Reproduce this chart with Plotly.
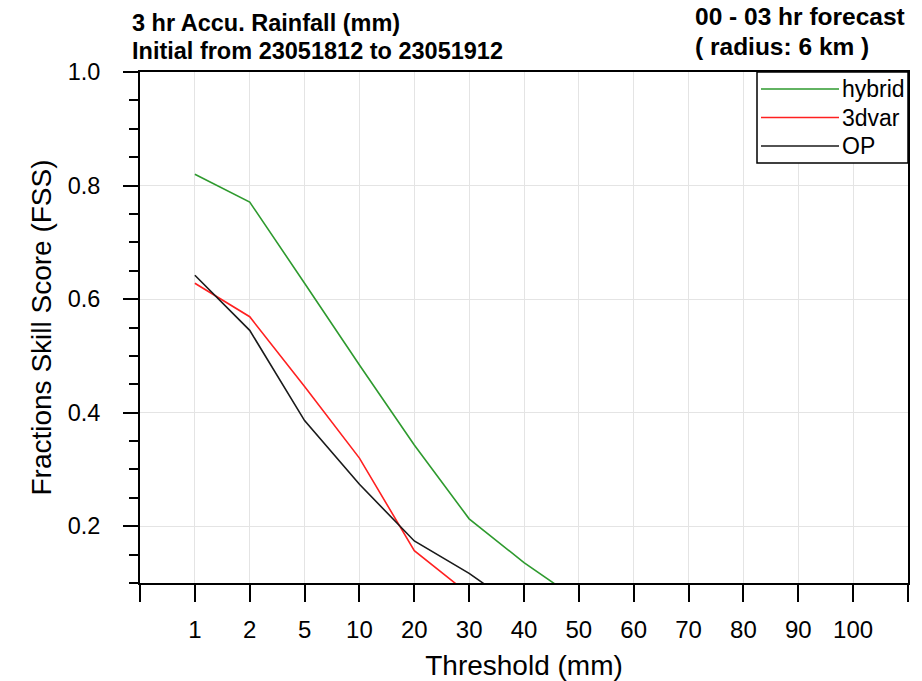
import plotly.graph_objects as go

# ---- data ----
thresholds = ["1", "2", "5", "10", "20", "30", "40", "50", "60", "70", "80", "90", "100"]
hybrid = [0.820, 0.771, 0.628, 0.484, 0.343, 0.213, 0.136, 0.069]
var3d = [0.628, 0.569, 0.446, 0.320, 0.157, 0.080]
op = [0.642, 0.545, 0.386, 0.274, 0.174, 0.117, 0.049]
series_names = ["hybrid", "3dvar", "OP"]
series_colors = ["#2e9a2e", "#ff2020", "#1a1a1a"]
series_values = [hybrid, var3d, op]

y_ticks = [0.2, 0.4, 0.6, 0.8, 1.0]
y_ticklabels = ["0.2", "0.4", "0.6", "0.8", "1.0"]

FONT = "Liberation Sans, Arial, Helvetica, sans-serif"

W, H = 922, 681
PL, PR, PT, PB = 140, 908, 72, 583          # plot area in page pixels
ML, MT = PL, PT
MR = W - PR
MB = H - PB
PW = PR - PL
PH = PB - PT


def px(x):
    return (x - PL) / PW


def py(y):
    return (PB - y) / PH


fig = go.Figure()
for name, color, vals in zip(series_names, series_colors, series_values):
    xs = list(range(1, len(vals) + 1))
    fig.add_trace(go.Scatter(x=xs, y=vals, mode="lines", name=name,
                             line=dict(color=color, width=1.6), showlegend=False,
                             hoverinfo="skip"))

tickvals = list(range(0, len(thresholds) + 2))
ticktext = [""] + thresholds + [""]

fig.update_layout(
    template="none",
    width=W, height=H,
    margin=dict(l=ML, r=MR, t=MT, b=MB, pad=0, autoexpand=False),
    paper_bgcolor="white", plot_bgcolor="white",
    font=dict(family=FONT, color="black"),
    showlegend=False,
    xaxis=dict(
        automargin=False,
        range=[0, len(thresholds) + 1],
        tickmode="array", tickvals=tickvals, ticktext=ticktext,
        ticks="outside", ticklen=17, tickwidth=2, tickcolor="black",
        ticklabelstandoff=7,
        tickfont=dict(size=24, family=FONT),
        showline=True, linecolor="black", linewidth=2, mirror=True,
        showgrid=True, gridcolor="#e4e4e4", gridwidth=1,
        zeroline=False,
        title=dict(text="Threshold (mm)", font=dict(size=28, family=FONT), standoff=14),
    ),
    yaxis=dict(
        automargin=False,
        range=[0.1, 1.0],
        tickmode="array", tickvals=y_ticks, ticktext=y_ticklabels,
        ticks="outside", ticklen=15, tickwidth=2, tickcolor="black",
        ticklabelstandoff=18,
        tickfont=dict(size=23.5, family=FONT),
        minor=dict(dtick=0.05, tick0=0.0, ticks="outside", ticklen=9, tickwidth=1.5,
                   tickcolor="black", showgrid=False),
        showline=True, linecolor="black", linewidth=2, mirror=True,
        showgrid=True, gridcolor="#e4e4e4", gridwidth=1,
        zeroline=False,
        title=dict(text="Fractions Skill Score (FSS)", font=dict(size=28, family=FONT), standoff=8),
    ),
)

# ---- titles ----
for text, x, y, size in [
    ("3 hr Accu. Rainfall (mm)", 130, 23, 23.5),
    ("Initial from 23051812 to 23051912", 130, 50.5, 23.5),
    ("00 - 03 hr forecast", 693, 17, 24.5),
    ("( radius: 6 km )", 693, 46.5, 24.5),
]:
    fig.add_annotation(text=text, xref="paper", yref="paper", x=px(x), y=py(y),
                       xanchor="left", yanchor="middle", showarrow=False,
                       font=dict(size=size, family=FONT, color="black", weight="bold"))

# ---- legend (drawn) ----
fig.add_shape(type="rect", xref="paper", yref="paper",
              x0=px(757), x1=px(908), y0=py(163), y1=py(72),
              line=dict(color="black", width=1.5), fillcolor="white", layer="above")
for i, (name, color) in enumerate(zip(series_names, series_colors)):
    yy = 89 + i * 28.5
    fig.add_shape(type="line", xref="paper", yref="paper",
                  x0=px(761), x1=px(839), y0=py(yy), y1=py(yy),
                  line=dict(color=color, width=1.6), layer="above")
    fig.add_annotation(text=name, xref="paper", yref="paper", x=px(840), y=py(yy),
                       xanchor="left", yanchor="middle", showarrow=False,
                       font=dict(size=23, family=FONT, color="black"))

fig.write_html("out.html", config={"displayModeBar": False},
               post_script="document.body.style.margin='0';document.body.style.overflow='hidden';")
